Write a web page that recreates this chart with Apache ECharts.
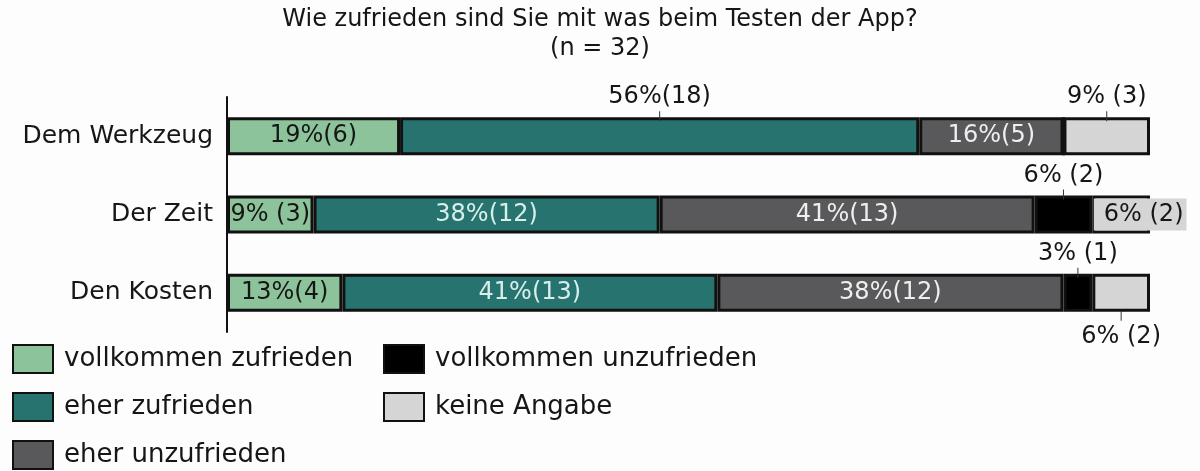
<!DOCTYPE html>
<html><head><meta charset="utf-8">
<script src="https://cdn.jsdelivr.net/npm/echarts@6/dist/echarts.min.js"></script>
<style>html,body{margin:0;padding:0;background:#fdfdfd}#c{width:1200px;height:471px}</style>
</head><body><div id="c"></div>
<script>
var categories = ['Dem Werkzeug', 'Der Zeit', 'Den Kosten'];
var total = 32;
var seriesNames = ['vollkommen zufrieden', 'eher zufrieden', 'eher unzufrieden', 'vollkommen unzufrieden', 'keine Angabe'];
var vollkommenZufrieden = [6, 3, 4];
var eherZufrieden = [18, 12, 13];
var eherUnzufrieden = [5, 13, 12];
var vollkommenUnzufrieden = [0, 2, 1];
var keineAngabe = [3, 2, 2];
var seriesValues = [vollkommenZufrieden, eherZufrieden, eherUnzufrieden, vollkommenUnzufrieden, keineAngabe];

var colors = ['#8dc39b', '#26736f', '#59595b', '#000000', '#d5d5d5'];
var textColors = ['#161616', '#d9eeeb', '#eeeeee', '#111111', '#161616'];
// label placement per series per row: 'in', 'top', 'bottom', 'inOff'
var placement = [
  ['in', 'in', 'in'],
  ['top', 'in', 'in'],
  ['in', 'in', 'in'],
  ['none', 'top', 'top'],
  ['top', 'inOff', 'bottom']
];
var FONT = 'DejaVu Sans';
var LBL = 24;

function labelText(n) {
  var p = Math.round(n / total * 100);
  return p < 10 ? p + '% (' + n + ')' : p + '%(' + n + ')';
}

var series = seriesValues.map(function (vals, si) {
  return {
    name: seriesNames[si],
    type: 'bar',
    stack: 'all',
    barWidth: 38,
    itemStyle: { color: colors[si], borderColor: '#111', borderWidth: 3 },
    data: vals.map(function (v, ri) {
      var pl = placement[si][ri];
      var txt = labelText(v);
      var lab;
      if (v === 0 || pl === 'none') {
        lab = { show: false };
      } else if (pl === 'in') {
        lab = { show: true, position: 'inside', formatter: txt, color: textColors[si], fontSize: LBL, fontFamily: FONT };
      } else if (pl === 'inOff') {
        lab = { show: true, position: 'inside', offset: [19, 0], formatter: txt, color: '#161616', fontSize: LBL, fontFamily: FONT,
                backgroundColor: '#d5d5d5', padding: [4, 3, 4, 10] };
      } else if (pl === 'top') {
        lab = { show: true, position: 'top', distance: -4, formatter: '{v|' + txt + '}\n{t| }',
                rich: { v: { fontSize: LBL, lineHeight: 28, color: '#161616', fontFamily: FONT },
                        t: { width: 1, height: 10, lineHeight: 10, backgroundColor: '#333', fontSize: 1 } } };
      } else {
        lab = { show: true, position: 'bottom', distance: -1, formatter: '{t| }\n{v|' + txt + '}',
                rich: { v: { fontSize: LBL, lineHeight: 32, color: '#161616', fontFamily: FONT },
                        t: { width: 1, height: 10, lineHeight: 10, backgroundColor: '#333', fontSize: 1 } } };
      }
      return { value: v, label: lab };
    })
  };
});

var legendBase = {
  orient: 'vertical', padding: 0, top: 344, icon: 'rect',
  itemWidth: 40, itemHeight: 28, itemGap: 18,
  itemStyle: { borderColor: '#111', borderWidth: 2 },
  textStyle: { fontSize: 26, color: '#161616', fontFamily: FONT, padding: [0, 0, 0, 6] }
};

var chart = echarts.init(document.getElementById('c'));
chart.setOption({
  backgroundColor: '#fdfdfd',
  animation: false,
  title: {
    text: 'Wie zufrieden sind Sie mit was beim Testen der App?\n(n = 32)',
    left: 'center', top: 0,
    textStyle: { fontSize: 24, fontWeight: 'normal', color: '#161616', lineHeight: 29, fontFamily: FONT }
  },
  legend: [
    Object.assign({}, legendBase, { data: seriesNames.slice(0, 3), left: 12 }),
    Object.assign({}, legendBase, { data: seriesNames.slice(3), left: 383 })
  ],
  grid: { left: 227, right: 50, top: 97, bottom: 139 },
  xAxis: { type: 'value', min: 0, max: total, show: false },
  yAxis: {
    type: 'category', inverse: true, data: categories,
    axisLine: { lineStyle: { color: '#111', width: 2 } },
    axisTick: { show: false },
    axisLabel: { fontSize: 25, color: '#161616', margin: 14, fontFamily: FONT }
  },
  series: series
});
</script></body></html>
